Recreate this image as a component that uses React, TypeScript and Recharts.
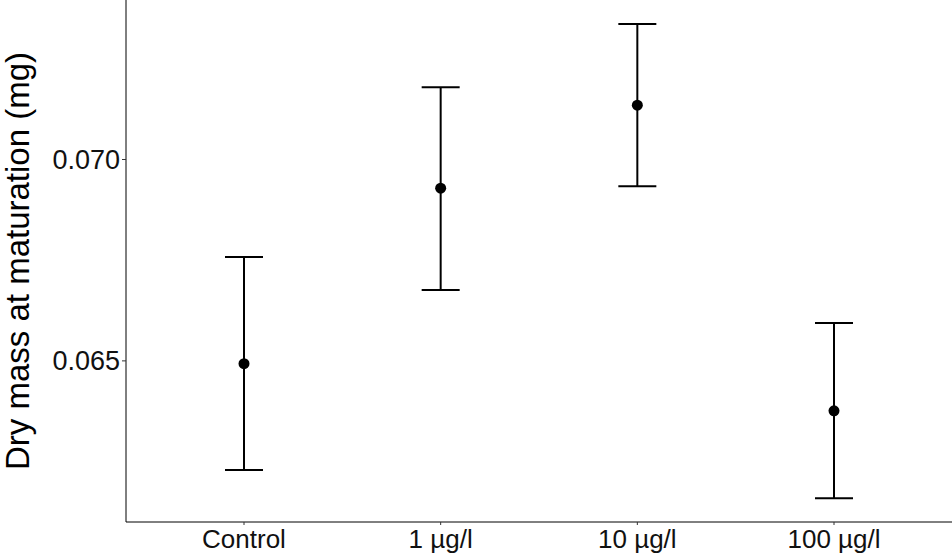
import { ComposedChart, Scatter, ErrorBar, XAxis, YAxis } from "recharts";

const categories = ["Control", "1 µg/l", "10 µg/l", "100 µg/l"];
const means = [0.06493, 0.069287, 0.071348, 0.063759];
const upper = [0.067582, 0.071795, 0.073366, 0.065943];
const lower = [0.062294, 0.066763, 0.069337, 0.061591];
const yTicks = [0.065, 0.07];

const data = categories.map((name, i) => ({
  x: i,
  name,
  mean: means[i],
  err: [means[i] - lower[i], upper[i] - means[i]],
}));

const Dot = (props: any) => {
  const { cx, cy } = props;
  return <circle cx={cx} cy={cy} r={5.5} fill="#000" />;
};

const font = "Liberation Sans, Arial";

export default function App() {
  return (
    <div style={{ position: "absolute", left: 0, top: 0 }}>
      <ComposedChart
        width={952}
        height={557}
        data={data}
        margin={{ top: 0, right: 0, left: 0, bottom: 0 }}
      >
        <XAxis
          type="number"
          dataKey="x"
          domain={[-0.6, 3.6]}
          ticks={[0, 1, 2, 3]}
          tickFormatter={(v: number) => categories[v]}
          height={35}
          tickSize={3}
          tickMargin={5}
          tickLine={{ stroke: "#333" }}
          axisLine={{ stroke: "#000", strokeWidth: 1 }}
          tick={{ fontSize: 26, fill: "#111", fontFamily: font }}
          allowDataOverflow
        />
        <YAxis
          type="number"
          domain={[0.061, 0.07396]}
          ticks={yTicks}
          tickFormatter={(v: number) => v.toFixed(3)}
          width={126}
          tickSize={4}
          tickLine={{ stroke: "#333" }}
          axisLine={{ stroke: "#000", strokeWidth: 1 }}
          tick={{ fontSize: 27, fill: "#111", fontFamily: font }}
          allowDataOverflow
          label={{
            value: "Dry mass at maturation (mg)",
            angle: -90,
            position: "insideLeft",
            dx: 12,
            style: {
              textAnchor: "middle",
              fontSize: 33,
              fill: "#000",
              fontFamily: font,
            },
          }}
        />
        <Scatter dataKey="mean" shape={<Dot />} isAnimationActive={false}>
          <ErrorBar
            dataKey="err"
            direction="y"
            width={19}
            stroke="#000"
            strokeWidth={2}
            isAnimationActive={false}
          />
        </Scatter>
      </ComposedChart>
    </div>
  );
}
